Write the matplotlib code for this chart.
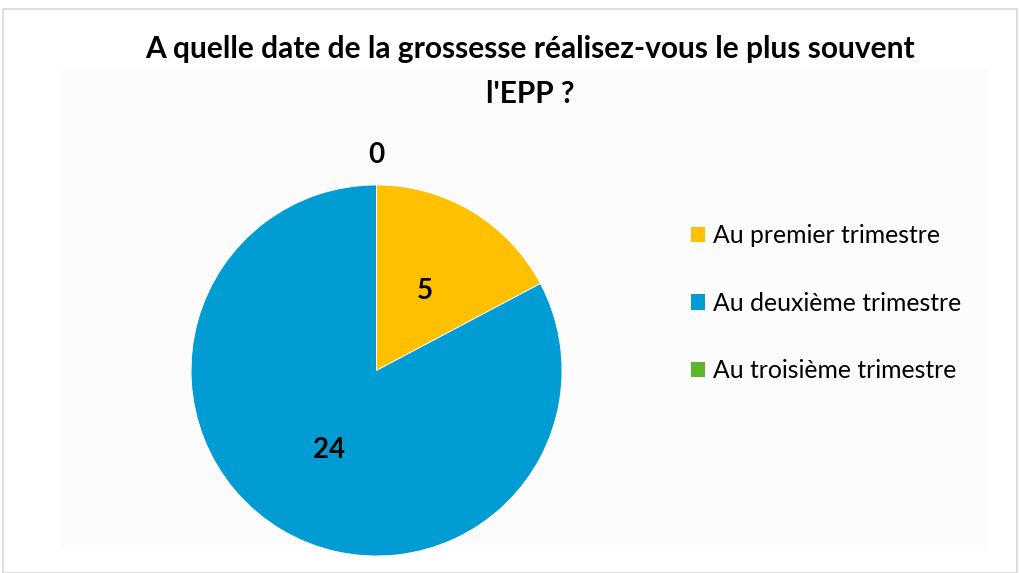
import numpy as np
import matplotlib.pyplot as plt
from matplotlib.patches import Rectangle

plt.rcParams['font.family'] = ['Lato', 'DejaVu Sans']

# données
categories = ['Au premier trimestre', 'Au deuxième trimestre', 'Au troisième trimestre']
values = [5, 24, 0]
colors = ['#FFC000', '#009CD3', '#5BB62B']
titre = "A quelle date de la grossesse réalisez-vous le plus souvent\nl'EPP ?"

fig = plt.figure(figsize=(10.2, 5.73), dpi=100)
fig.patch.set_facecolor('white')

# cadre léger
fig.add_artist(Rectangle((0.003, 0.0), 0.994, 0.985, transform=fig.transFigure,
                         fill=False, edgecolor='#D8D8D8', linewidth=1.2))
fig.add_artist(Rectangle((0.06, 0.04), 0.91, 0.84, transform=fig.transFigure,
                         facecolor='#FCFCFC', edgecolor='none', zorder=-1))

ax = fig.add_axes([0.1873, 0.0297, 0.3637, 0.6475])
wedges, _ = ax.pie(values, colors=colors, startangle=90, counterclock=False,
                   wedgeprops=dict(linewidth=0.6, edgecolor='white'))
ax.set_xlim(-1, 1)
ax.set_ylim(-1, 1)
ax.set_aspect('auto')
ax.axis('off')

# étiquettes de valeurs
total = sum(values)
cum = 0
for v in values:
    mid = (cum + v / 2) / total * 2 * np.pi
    r = 0.5 if v > 0 else 1.16
    ax.text(r * np.sin(mid), r * np.cos(mid), str(v), ha='center', va='center',
            fontsize=20, fontweight='bold', color='black', clip_on=False)
    cum += v

fig.text(0.520, 0.875, titre, ha='center', va='center', fontsize=21.5,
         fontweight='bold', linespacing=1.72)

handles = [Rectangle((0, 0), 1, 1, facecolor=c) for c in colors]
leg = fig.legend(handles, categories, loc='center left', bbox_to_anchor=(0.677, 0.471),
                 frameon=False, fontsize=17.8, handlelength=0.6, handleheight=0.6,
                 handletextpad=0.3, labelspacing=1.8, borderpad=0, borderaxespad=0)

fig.savefig('out.png', dpi=100)
